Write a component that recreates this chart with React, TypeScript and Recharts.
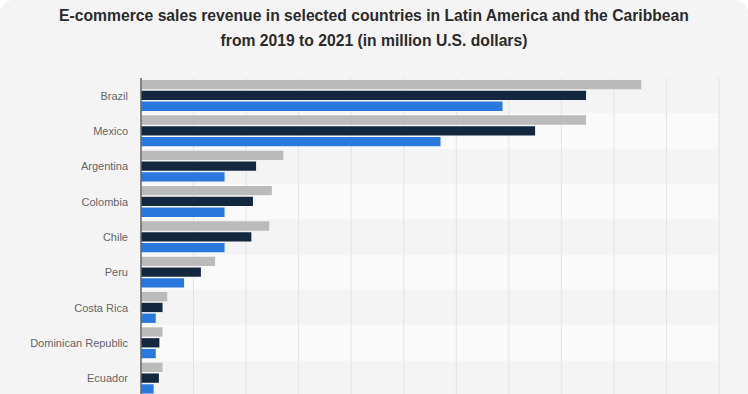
import React from 'react';
import { BarChart, Bar, XAxis, YAxis, CartesianGrid } from 'recharts';

// Countries, top to bottom
const countries = [
  'Brazil',
  'Mexico',
  'Argentina',
  'Colombia',
  'Chile',
  'Peru',
  'Costa Rica',
  'Dominican Republic',
  'Ecuador',
];

// Revenue in million U.S. dollars
const revenue2021 = [47600, 42350, 13550, 12450, 12200, 7050, 2500, 2050, 2050];
const revenue2020 = [42350, 37500, 10950, 10650, 10500, 5700, 2050, 1750, 1700];
const revenue2019 = [34400, 28500, 7950, 7950, 7950, 4100, 1400, 1400, 1200];

const xTicks = [0, 5000, 10000, 15000, 20000, 25000, 30000, 35000, 40000, 45000, 50000, 55000];

const chartData = countries.map((name, i) => ({
  name,
  y2021: revenue2021[i],
  y2020: revenue2020[i],
  y2019: revenue2019[i],
}));

const FONT = '"Liberation Sans", Arial, Helvetica, sans-serif';

// the value labels are below the visible crop, so the ticks draw nothing
const NoTick = () => <g />;

// row stripes: one boundary at the top of every category band
const rowBoundaries = ({ yAxis }: any) => {
  const scale = yAxis.scale;
  return countries.map((c) => (typeof scale === 'function' ? scale(c) : scale.map(c)));
};

const App: React.FC = () => {
  return (
    <div
      style={{
        position: 'fixed',
        left: 0,
        top: 0,
        width: 748,
        height: 394,
        overflow: 'hidden',
        background: '#ffffff',
      }}
    >
      <div
        style={{
          position: 'absolute',
          left: 0,
          top: 0,
          width: 748,
          height: 460,
          background: '#f4f4f4',
          borderRadius: 14,
        }}
      >
        <div
          style={{
            position: 'absolute',
            left: 0,
            top: 3,
            width: 748,
            textAlign: 'center',
            fontFamily: FONT,
            fontWeight: 'bold',
            fontSize: 15.7,
            lineHeight: '25px',
            color: '#2b2b2b',
          }}
        >
          E-commerce sales revenue in selected countries in Latin America and the Caribbean
          <br />
          from 2019 to 2021 (in million U.S. dollars)
        </div>
        <BarChart
          width={748}
          height={440}
          data={chartData}
          layout="vertical"
          margin={{ top: 78, right: 29, bottom: 14, left: 0 }}
          barGap={1.5}
          barSize={9.3}
          style={{ position: 'absolute', left: 0, top: 0 }}
        >
          <CartesianGrid
            vertical={false}
            stroke="none"
            horizontalFill={['#f4f4f4', '#fafafa']}
            horizontalCoordinatesGenerator={rowBoundaries}
          />
          <CartesianGrid horizontal={false} stroke="#e4e4e4" strokeWidth={1} />
          <XAxis
            type="number"
            domain={[0, 55000]}
            ticks={xTicks}
            interval={0}
            axisLine={false}
            tickLine={false}
            tick={NoTick}
          />
          <YAxis
            type="category"
            dataKey="name"
            width={141}
            axisLine={{ stroke: '#666', strokeWidth: 1.5 }}
            tickLine={false}
            tickSize={6}
            tickMargin={7}
            interval={0}
            tick={{ fill: '#666', fontSize: 11, fontFamily: FONT }}
          />
          <Bar dataKey="y2021" name="2021" fill="#bbbbbb" isAnimationActive={false} />
          <Bar dataKey="y2020" name="2020" fill="#13283f" isAnimationActive={false} />
          <Bar dataKey="y2019" name="2019" fill="#2a77dd" isAnimationActive={false} />
        </BarChart>
      </div>
    </div>
  );
};

export default App;
